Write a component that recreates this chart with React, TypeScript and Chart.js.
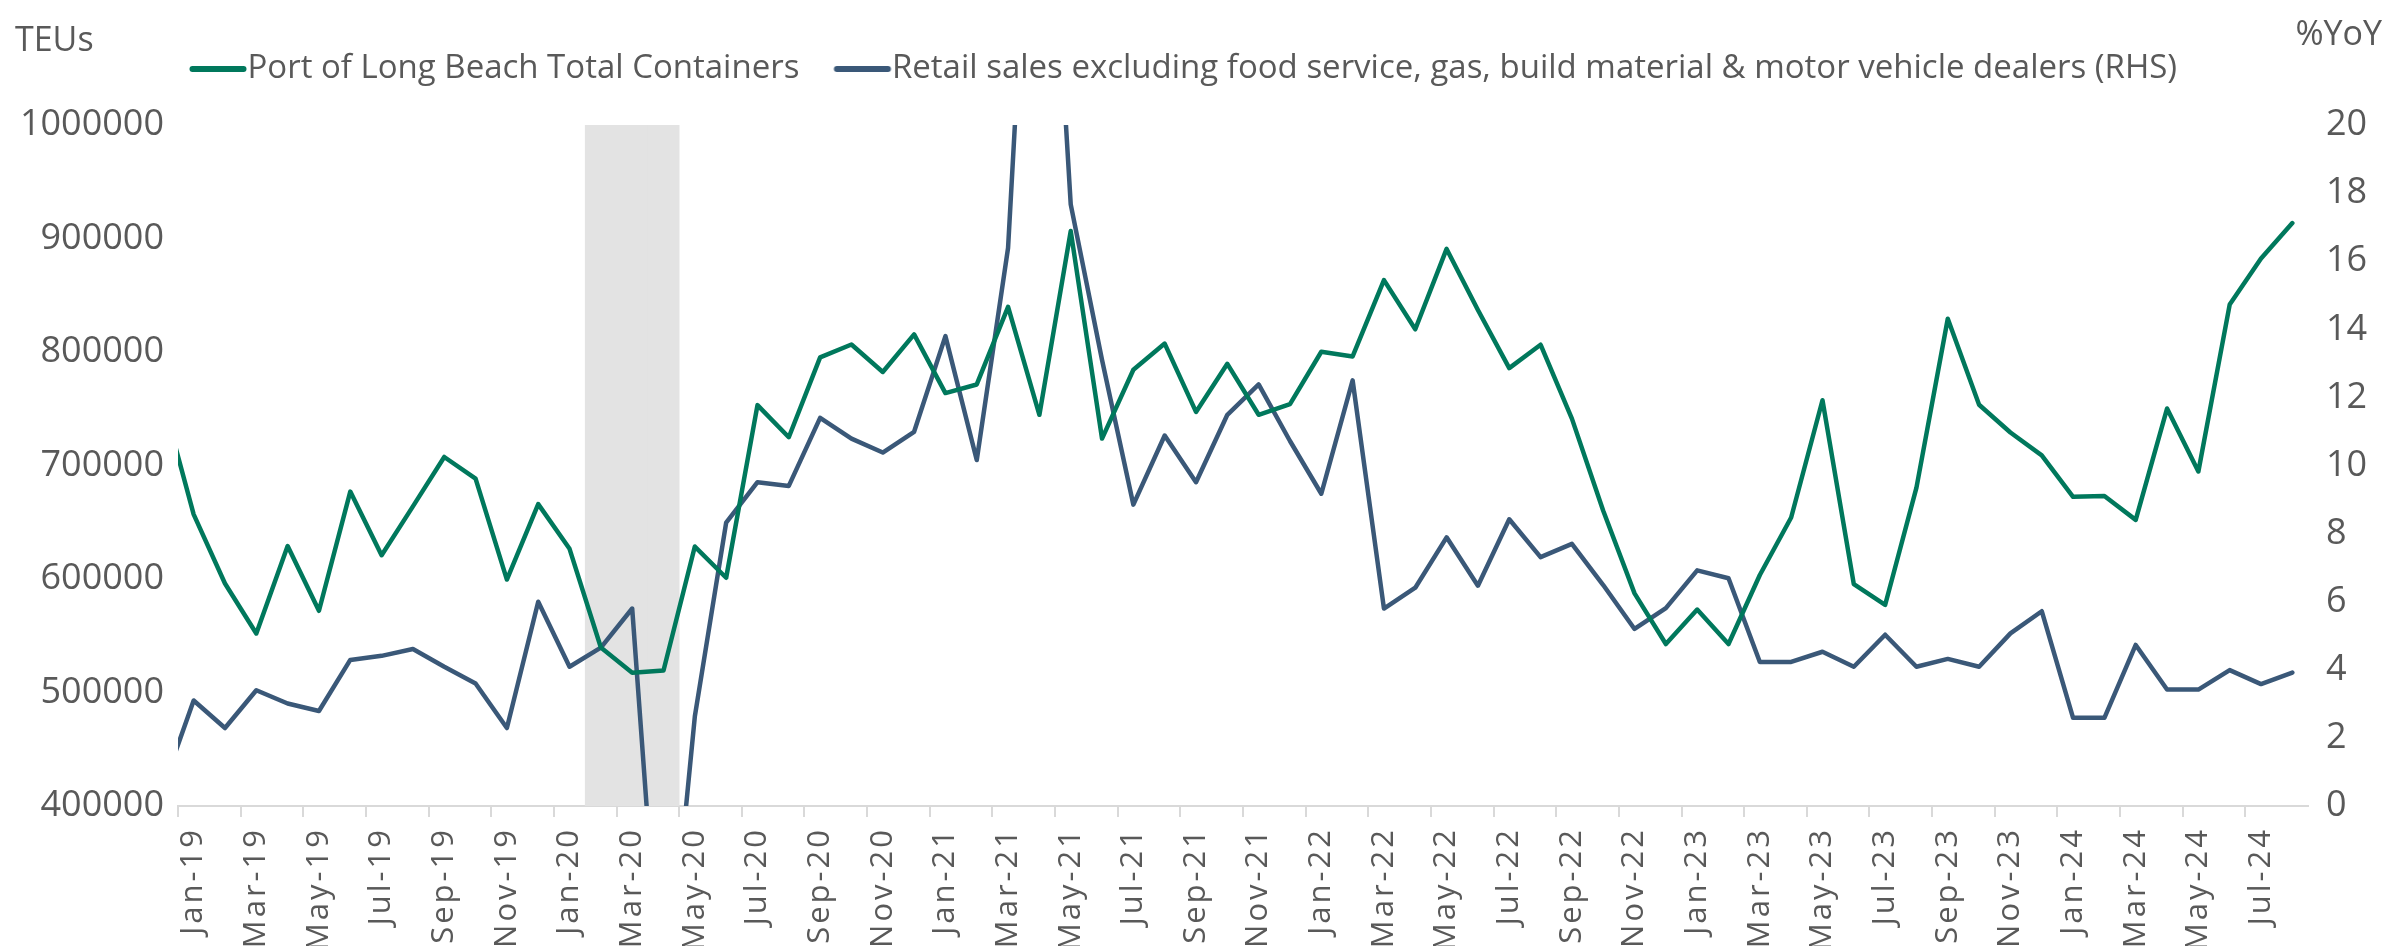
import React, { useEffect, useRef } from 'react';
import { Chart, registerables } from 'chart.js';

Chart.register(...registerables);

// Categories (Dec-18 is a leading point that is clipped off the left edge)
const months = [
  'Dec-18',
  'Jan-19', 'Feb-19', 'Mar-19', 'Apr-19', 'May-19', 'Jun-19', 'Jul-19', 'Aug-19', 'Sep-19', 'Oct-19', 'Nov-19', 'Dec-19',
  'Jan-20', 'Feb-20', 'Mar-20', 'Apr-20', 'May-20', 'Jun-20', 'Jul-20', 'Aug-20', 'Sep-20', 'Oct-20', 'Nov-20', 'Dec-20',
  'Jan-21', 'Feb-21', 'Mar-21', 'Apr-21', 'May-21', 'Jun-21', 'Jul-21', 'Aug-21', 'Sep-21', 'Oct-21', 'Nov-21', 'Dec-21',
  'Jan-22', 'Feb-22', 'Mar-22', 'Apr-22', 'May-22', 'Jun-22', 'Jul-22', 'Aug-22', 'Sep-22', 'Oct-22', 'Nov-22', 'Dec-22',
  'Jan-23', 'Feb-23', 'Mar-23', 'Apr-23', 'May-23', 'Jun-23', 'Jul-23', 'Aug-23', 'Sep-23', 'Oct-23', 'Nov-23', 'Dec-23',
  'Jan-24', 'Feb-24', 'Mar-24', 'Apr-24', 'May-24', 'Jun-24', 'Jul-24', 'Aug-24',
];

const firstVisibleMonth = 'Jan-19';

// Port of Long Beach total containers (TEUs, left axis)
const longBeachTEUs = [
  759000,
  657000, 596000, 552000, 629000, 572000, 677000, 621000, 664000, 707500, 688500, 599500, 666000,
  626600, 539600, 517400, 519400, 628600, 601100, 753200, 724900, 795300, 806600, 782400, 815500,
  763800, 771400, 839800, 744700, 906600, 723700, 784400, 807400, 747200, 789600, 744700, 754000,
  800200, 796100, 863300, 820000, 890800, 837000, 785800, 806400, 741300, 660200, 587300, 542700,
  573100, 542700, 603500, 654200, 757500, 595400, 577100, 680500, 829300, 753500, 729100, 708900,
  672400, 673200, 652100, 750200, 694700, 841800, 882400, 913600,
];

// Retail sales ex food service, gas, building material & motor vehicle dealers (%YoY, right axis)
const retailSalesYoY = [
  0.5,
  3.1, 2.29, 3.4, 3.01, 2.79, 4.29, 4.41, 4.61, 4.09, 3.6, 2.29, 6.0,
  4.09, 4.65, 5.8, -6.8, 2.63, 8.32, 9.51, 9.4, 11.4, 10.79, 10.38, 10.99,
  13.8, 10.16, 16.39, 33.0, 17.67, 13.1, 8.85, 10.88, 9.51, 11.49, 12.38, 10.72,
  9.17, 12.5, 5.8, 6.41, 7.89, 6.47, 8.42, 7.31, 7.7, 6.49, 5.2, 5.81,
  6.92, 6.69, 4.23, 4.23, 4.53, 4.09, 5.03, 4.09, 4.32, 4.09, 5.07, 5.72,
  2.59, 2.59, 4.73, 3.42, 3.42, 3.99, 3.58, 3.92,
];

// Shaded period
const shadedMonths = ['Feb-20', 'Mar-20', 'Apr-20'];

const leftTicks = [400000, 500000, 600000, 700000, 800000, 900000, 1000000];
const rightTicks = [0, 2, 4, 6, 8, 10, 12, 14, 16, 18, 20];

const seriesNames = [
  'Port of Long Beach Total Containers',
  'Retail sales excluding food service, gas, build material & motor vehicle dealers (RHS)',
];
const leftCaption = 'TEUs';
const rightCaption = '%YoY';

const GREEN = '#00785c';
const BLUE = '#3a5878';
const SHADE = '#e3e3e3';
const TEXT = '#595959';
const AXIS = '#d9d9d9';
const FONT = '"Open Sans", "Noto Sans", sans-serif';
const LEGEND_SIZE = 33;
const CAPTION_SIZE = 34;
const TICK_SIZE = 36;

function makeLineIcon(color: string): HTMLCanvasElement {
  const c = document.createElement('canvas');
  c.width = 80;
  c.height = 12;
  const g = c.getContext('2d')!;
  g.strokeStyle = color;
  g.lineWidth = 6;
  g.lineCap = 'round';
  g.beginPath();
  g.moveTo(21.5, 6);
  g.lineTo(72.5, 6);
  g.stroke();
  return c;
}

const captionPlugin = {
  id: 'axisCaptions',
  afterDraw(chart: any) {
    const { ctx } = chart;
    ctx.save();
    ctx.font = `${CAPTION_SIZE}px ${FONT}`;
    ctx.fillStyle = TEXT;
    ctx.textBaseline = 'alphabetic';
    ctx.textAlign = 'left';
    ctx.fillText(leftCaption, 15, 51);
    ctx.textAlign = 'right';
    ctx.fillText(rightCaption, chart.width - 2, 45);
    ctx.restore();
  },
};

export default function App() {
  const canvasRef = useRef<HTMLCanvasElement | null>(null);

  useEffect(() => {
    if (!canvasRef.current) return;
    const icons = [makeLineIcon(GREEN), makeLineIcon(BLUE)];
    const shadeData = months.map((m) => (shadedMonths.includes(m) ? 1 : null));

    const chart = new Chart(canvasRef.current, {
      type: 'line',
      data: {
        labels: months,
        datasets: [
          {
            label: seriesNames[0],
            data: longBeachTEUs,
            borderColor: GREEN,
            backgroundColor: GREEN,
            borderWidth: 4.5,
            pointRadius: 0,
            tension: 0,
            yAxisID: 'y',
            order: 0,
            clip: 0,
            borderJoinStyle: 'round',
            borderCapStyle: 'round',
          } as any,
          {
            label: seriesNames[1],
            data: retailSalesYoY,
            borderColor: BLUE,
            backgroundColor: BLUE,
            borderWidth: 4.5,
            pointRadius: 0,
            tension: 0,
            yAxisID: 'y1',
            order: 1,
            clip: 0,
            borderJoinStyle: 'round',
            borderCapStyle: 'round',
          } as any,
          {
            type: 'bar',
            label: 'shade',
            data: shadeData,
            backgroundColor: SHADE,
            borderWidth: 0,
            barPercentage: 1,
            categoryPercentage: 1,
            yAxisID: 'yShade',
            order: 10,
          } as any,
        ],
      },
      options: {
        animation: false,
        responsive: true,
        maintainAspectRatio: false,
        layout: { padding: { top: 16.5, left: 0, right: 16, bottom: 0 } },
        plugins: {
          tooltip: { enabled: false },
          title: {
            display: true,
            text: '',
            weight: 500,
            font: { size: 1, lineHeight: 1 },
            padding: { top: 0, bottom: 28.5 },
          } as any,
          legend: {
            display: true,
            position: 'top',
            labels: {
              usePointStyle: true,
              pointStyleWidth: 40,
              padding: 36,
              color: TEXT,
              font: { family: FONT, size: LEGEND_SIZE },
              generateLabels: (ch: any) =>
                [0, 1].map((i) => ({
                  text: ch.data.datasets[i].label,
                  fillStyle: 'transparent',
                  strokeStyle: 'transparent',
                  lineWidth: 0,
                  pointStyle: icons[i],
                  fontColor: TEXT,
                  hidden: false,
                  datasetIndex: i,
                })),
            },
          },
        },
        scales: {
          x: {
            type: 'category',
            min: firstVisibleMonth,
            offset: true,
            afterFit: (s: any) => {
              s.height = 140;
              if (!s.__spaced) {
                const orig = s.drawLabels.bind(s);
                s.drawLabels = (area: any) => {
                  const c = s.ctx;
                  c.save();
                  c.letterSpacing = '3px';
                  orig(area);
                  c.restore();
                };
                s.__spaced = true;
              }
            },
            border: { display: true, color: AXIS, width: 2 },
            grid: {
              offset: true,
              drawOnChartArea: false,
              drawTicks: true,
              tickLength: 11,
              lineWidth: 2,
              color: (ctx: any) => (ctx.index % 2 === 0 ? AXIS : 'rgba(0,0,0,0)'),
            },
            ticks: {
              autoSkip: false,
              maxRotation: 90,
              minRotation: 90,
              padding: 10,
              color: TEXT,
              font: { family: FONT, size: 31 },
              callback: (val: any, idx: number) => (idx % 2 === 0 ? months[val as number] : ''),
            },
          },
          y: {
            position: 'left',
            min: leftTicks[0],
            max: leftTicks[leftTicks.length - 1],
            afterFit: (s: any) => {
              s.width = 178;
            },
            afterBuildTicks: (s: any) => {
              s.ticks = leftTicks.map((v) => ({ value: v }));
            },
            border: { display: false },
            grid: { display: false, drawTicks: false },
            ticks: {
              padding: 14,
              color: TEXT,
              font: { family: FONT, size: TICK_SIZE },
              callback: (v: any) => String(v),
            },
          },
          y1: {
            position: 'right',
            min: rightTicks[0],
            max: rightTicks[rightTicks.length - 1],
            afterFit: (s: any) => {
              s.width = 60;
            },
            afterBuildTicks: (s: any) => {
              s.ticks = rightTicks.map((v) => ({ value: v }));
            },
            border: { display: false },
            grid: { display: false, drawTicks: false },
            ticks: {
              padding: 18,
              color: TEXT,
              font: { family: FONT, size: TICK_SIZE },
              callback: (v: any) => String(v),
            },
          },
          yShade: {
            display: false,
            min: 0,
            max: 1,
          },
        },
      },
      plugins: [captionPlugin],
    });

    return () => chart.destroy();
  }, []);

  return (
    <div style={{ position: 'fixed', left: 0, top: 0, width: 2384, height: 946, background: '#fff' }}>
      <canvas ref={canvasRef} />
    </div>
  );
}
